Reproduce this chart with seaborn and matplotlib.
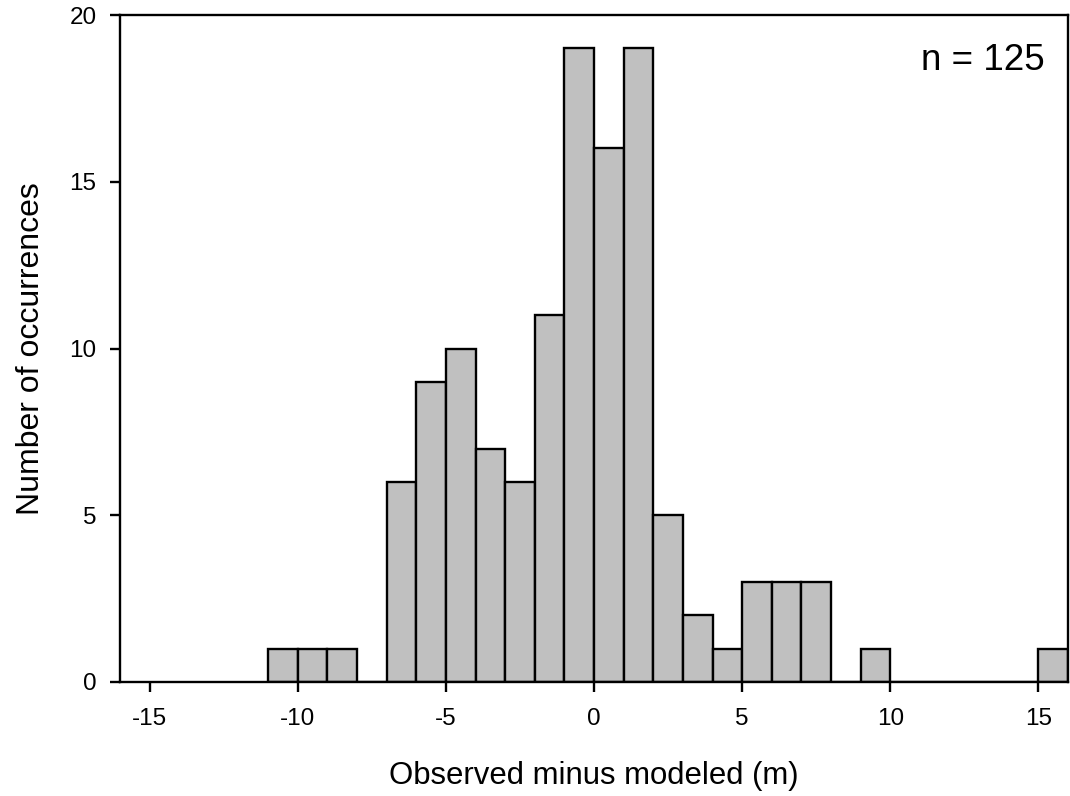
import numpy as np
import pandas as pd
import matplotlib
matplotlib.use("Agg")
import matplotlib.pyplot as plt
import seaborn as sns

# bin left edges (width 1 m) and counts
bin_left = [-11, -10, -9, -8, -7, -6, -5, -4, -3, -2, -1, 0, 1, 2, 3, 4, 5, 6, 7, 8, 9,
            10, 11, 12, 13, 14, 15]
counts = [1, 1, 1, 0, 6, 9, 10, 7, 6, 11, 19, 16, 19, 5, 2, 1, 3, 3, 3, 0, 1,
          0, 0, 0, 0, 0, 1]
x_ticks = [-15, -10, -5, 0, 5, 10, 15]
y_ticks = [0, 5, 10, 15, 20]

df = pd.DataFrame({"center": np.array(bin_left) + 0.5, "count": counts})
edges = list(bin_left) + [bin_left[-1] + 1]

sns.set_style("ticks", {"axes.edgecolor": "black", "text.color": "black",
                        "xtick.color": "black", "ytick.color": "black",
                        "axes.labelcolor": "black"})
plt.rcParams["font.family"] = ["Liberation Sans", "DejaVu Sans"]

fig = plt.figure(figsize=(10.7, 7.96), dpi=100)
# frame: x 120..1068 px, y 15..682 px
ax = fig.add_axes([120 / 1070, 114 / 796, 948 / 1070, 667 / 796])

sns.histplot(data=df, x="center", weights="count", bins=edges, ax=ax,
             color="#c0c0c0", edgecolor="black", linewidth=1.7, alpha=1)

ax.set_xlim(-16, 16)
ax.set_ylim(0, 20)
ax.set_xticks(x_ticks)
ax.set_yticks(y_ticks)
ax.set_xticklabels([str(t) for t in x_ticks])
ax.tick_params(axis="both", direction="out", length=7, width=1.7, labelsize=17.5)
ax.tick_params(axis="x", pad=12)
ax.tick_params(axis="y", pad=10)
ax.set_xlabel("Observed minus modeled (m)", fontsize=22.4, labelpad=22)
ax.set_ylabel("Number of occurrences", fontsize=23, labelpad=17)
for s in ax.spines.values():
    s.set_linewidth(1.7)
    s.set_visible(True)
ax.text(0.9757, 0.918, "n = 125", transform=ax.transAxes, ha="right", va="baseline", fontsize=26.5)

fig.savefig("out.png", dpi=100)
